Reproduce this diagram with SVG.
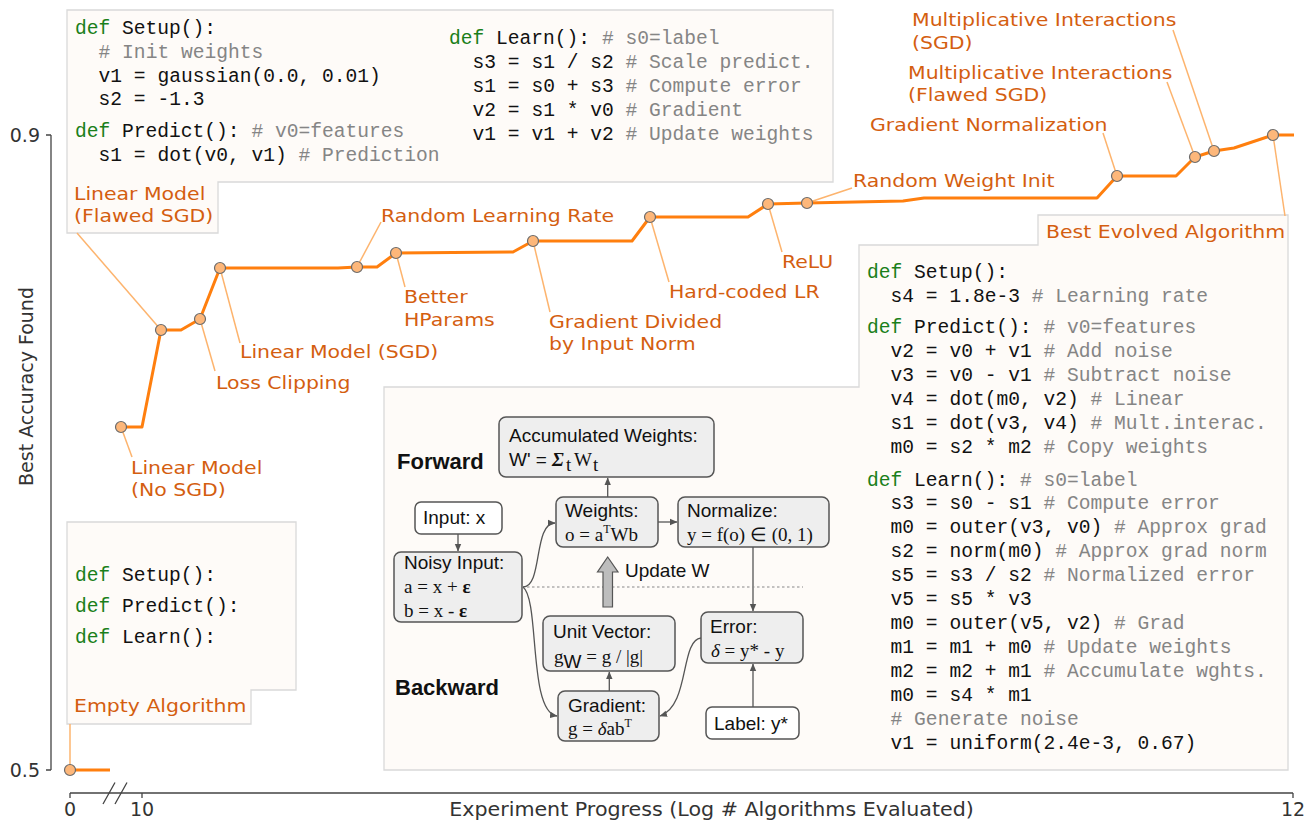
<svg xmlns="http://www.w3.org/2000/svg" width="1308" height="820" viewBox="0 0 1308 820">
<style>
.bg{fill:#fefbf8;stroke:#d9d9d9;stroke-width:1.3}
.code{font-family:"Liberation Mono","DejaVu Sans Mono",monospace;font-size:19.6px;fill:#111}
.kw{fill:#1a7f1a}
.cm{fill:#858585}
.lbl{font-family:"DejaVu Sans",sans-serif;font-size:18.5px;fill:#d45e10}
.ax{font-family:"DejaVu Sans",sans-serif;font-size:19px;fill:#333}
.axl{stroke:#444;stroke-width:1.3;fill:none}
.curve{fill:none;stroke:#ff7f0e;stroke-width:3;stroke-linejoin:round}
.lead{stroke:#fdb46e;stroke-width:1.5;fill:none}
.pt{fill:#fdb77a;stroke:#6b6b6b;stroke-width:1.2}
.box{fill:#eeeeee;stroke:#555;stroke-width:1.5}
.wbox{fill:#ffffff;stroke:#555;stroke-width:1.5}
.dt{font-family:"Liberation Sans",Arial,sans-serif;font-size:19px;fill:#111}
.mt{font-family:"Liberation Serif","Times New Roman",serif;font-size:19px;fill:#111}
.bold{font-family:"Liberation Sans",Arial,sans-serif;font-size:22px;font-weight:bold;fill:#111}
.arr{stroke:#555;stroke-width:1.3;fill:none;marker-end:url(#ah)}
</style>
<defs>
<marker id="ah" markerWidth="8" markerHeight="8" refX="7" refY="4" orient="auto" markerUnits="userSpaceOnUse">
<path d="M0,0.8 L7.5,4 L0,7.2 Z" fill="#555"/>
</marker>
</defs>
<rect width="1308" height="820" fill="#ffffff"/>

<!-- backgrounds -->
<g id="bg-top"><path class="bg" d="M67,10 H833 V182 H218 V233 H67 Z"/></g>
<g id="bg-empty"><path class="bg" d="M67,522 H296 V690 H251 V724 H67 Z"/></g>
<g id="bg-best"><path class="bg" d="M1038,215 H1288 V770 H384 V387 H859 V245 H1038 Z"/></g>

<!-- axes -->
<g id="axes">
<path class="axl" d="M51,135 V770 M46,135 H51 M46,770 H51"/>
<path class="axl" d="M70,793 H1293 M70,793 V798 M142,793 V798 M1293,793 V798"/>
<path class="axl" d="M103,804 L115,782.5 M115,804 L127,782.5"/>
<text class="ax" x="40" y="142" text-anchor="end">0.9</text>
<text class="ax" x="40" y="777" text-anchor="end">0.5</text>
<text class="ax" x="70" y="816" text-anchor="middle">0</text>
<text class="ax" x="142" y="816" text-anchor="middle">10</text>
<text class="ax" x="1293" y="816" text-anchor="middle">12</text>
<text class="ax" transform="translate(711.5,816) scale(1.085,1)" font-size="18.5" text-anchor="middle">Experiment Progress (Log # Algorithms Evaluated)</text>
<text class="ax" transform="translate(33,386.5) rotate(-90)" font-size="21" text-anchor="middle">Best Accuracy Found</text>
</g>

<!-- connectors: leader lines and diagram arrows -->
<g id="connectors">
<path class="lead" d="M70,770 V724"/>
<path class="lead" d="M121,427 L132,457"/>
<path class="lead" d="M161,330 L77,233"/>
<path class="lead" d="M200,319 L215,371"/>
<path class="lead" d="M220,268 L240,343"/>
<path class="lead" d="M357,267 L381,222"/>
<path class="lead" d="M396,253 L405,287"/>
<path class="lead" d="M533,241 L550,312"/>
<path class="lead" d="M650,217 L669,282"/>
<path class="lead" d="M768,204 L782,252"/>
<path class="lead" d="M807,203 L852,188"/>
<path class="lead" d="M1117,176 L1103,133"/>
<path class="lead" d="M1195,157 L1167,82"/>
<path class="lead" d="M1214,151 L1173,30"/>
<path class="lead" d="M1273,135 L1285,216"/>

<path class="arr" d="M458,534 V551"/>
<path class="arr" d="M607.7,497 V478"/>
<path class="arr" d="M658,522 H677"/>
<path class="arr" d="M753,547 V611"/>
<path class="arr" d="M753,707 V664"/>
<path class="arr" d="M609.3,691 V672"/>
<path class="arr" d="M523,587 C543,587 533,523 555,523"/>
<path class="arr" d="M523,587 C540,600 528,712 557,716"/>
<path class="arr" d="M701,638 C680,640 690,706 660,716"/>
<path d="M527,587 H803" stroke="#888" stroke-width="1.2" stroke-dasharray="2.5,2.5" fill="none"/>
</g>

<!-- accuracy curve -->
<g id="curve">
<path class="curve" d="M70,770 H110"/>
<path class="curve" d="M121,427 L142,427 L161,330 L181,330 L200,319 L220,268 L338,268 L357,267 L377,267 L396,253 L513,252 L533,241 L632,241 L650,217 L748,217 L768,204 L807,203 L903,201 L924,198 L1097,198 L1117,176 L1176,176 L1195,157 L1214,151 L1234,148 L1273,135 L1294,135"/>
<circle class="pt" cx="70" cy="770" r="5.5"/>
<circle class="pt" cx="121" cy="427" r="5.5"/>
<circle class="pt" cx="161" cy="330" r="5.5"/>
<circle class="pt" cx="200" cy="319" r="5.5"/>
<circle class="pt" cx="220" cy="268" r="5.5"/>
<circle class="pt" cx="357" cy="267" r="5.5"/>
<circle class="pt" cx="396" cy="253" r="5.5"/>
<circle class="pt" cx="533" cy="241" r="5.5"/>
<circle class="pt" cx="650" cy="217" r="5.5"/>
<circle class="pt" cx="768" cy="204" r="5.5"/>
<circle class="pt" cx="807" cy="203" r="5.5"/>
<circle class="pt" cx="1117" cy="176" r="5.5"/>
<circle class="pt" cx="1195" cy="157" r="5.5"/>
<circle class="pt" cx="1214" cy="151" r="5.5"/>
<circle class="pt" cx="1273" cy="135" r="5.5"/>
</g>

<!-- milestone labels -->
<g id="label-empty"><text class="lbl" transform="translate(74,712) scale(1.105,1)">Empty Algorithm</text></g>
<g id="label-nosgd"><text class="lbl" transform="translate(131,474) scale(1.105,1)">Linear Model<tspan x="0" y="22">(No SGD)</tspan></text></g>
<g id="label-flawed"><text class="lbl" transform="translate(74,200) scale(1.105,1)">Linear Model<tspan x="0" y="22">(Flawed SGD)</tspan></text></g>
<g id="label-clip"><text class="lbl" transform="translate(216,389) scale(1.105,1)">Loss Clipping</text></g>
<g id="label-sgd"><text class="lbl" transform="translate(240,358) scale(1.105,1)">Linear Model (SGD)</text></g>
<g id="label-rlr"><text class="lbl" transform="translate(381,222) scale(1.105,1)">Random Learning Rate</text></g>
<g id="label-hp"><text class="lbl" transform="translate(404,303) scale(1.105,1)">Better<tspan x="0" y="23">HParams</tspan></text></g>
<g id="label-gdin"><text class="lbl" transform="translate(549,328) scale(1.105,1)">Gradient Divided<tspan x="0" y="22">by Input Norm</tspan></text></g>
<g id="label-hclr"><text class="lbl" transform="translate(669,298) scale(1.105,1)">Hard-coded LR</text></g>
<g id="label-relu"><text class="lbl" transform="translate(782,268) scale(1.105,1)">ReLU</text></g>
<g id="label-rwi"><text class="lbl" transform="translate(853,187) scale(1.105,1)">Random Weight Init</text></g>
<g id="label-gn"><text class="lbl" transform="translate(870,131) scale(1.105,1)">Gradient Normalization</text></g>
<g id="label-mif"><text class="lbl" transform="translate(908,79) scale(1.105,1)">Multiplicative Interactions<tspan x="0" y="22">(Flawed SGD)</tspan></text></g>
<g id="label-mis"><text class="lbl" transform="translate(912,26) scale(1.105,1)">Multiplicative Interactions<tspan x="0" y="23">(SGD)</tspan></text></g>
<g id="label-best"><text class="lbl" transform="translate(1046,238) scale(1.105,1)">Best Evolved Algorithm</text></g>

<!-- code: linear model -->
<g id="code-linear" class="code">
<text x="75" y="34"><tspan class="kw">def</tspan> Setup():</text>
<text x="98.6" y="58" class="cm"># Init weights</text>
<text x="98.6" y="82">v1 = gaussian(0.0, 0.01)</text>
<text x="98.6" y="105">s2 = -1.3</text>
<text x="75" y="137"><tspan class="kw">def</tspan> Predict(): <tspan class="cm"># v0=features</tspan></text>
<text x="98.6" y="161">s1 = dot(v0, v1) <tspan class="cm"># Prediction</tspan></text>
<text x="449" y="44"><tspan class="kw">def</tspan> Learn(): <tspan class="cm"># s0=label</tspan></text>
<text x="472.6" y="68">s3 = s1 / s2 <tspan class="cm"># Scale predict.</tspan></text>
<text x="472.6" y="92">s1 = s0 + s3 <tspan class="cm"># Compute error</tspan></text>
<text x="472.6" y="116">v2 = s1 * v0 <tspan class="cm"># Gradient</tspan></text>
<text x="472.6" y="140">v1 = v1 + v2 <tspan class="cm"># Update weights</tspan></text>
</g>

<!-- code: empty -->
<g id="code-empty" class="code">
<text x="75" y="581"><tspan class="kw">def</tspan> Setup():</text>
<text x="75" y="612"><tspan class="kw">def</tspan> Predict():</text>
<text x="75" y="643"><tspan class="kw">def</tspan> Learn():</text>
</g>

<!-- code: best -->
<g id="code-best" class="code">
<text x="867" y="278"><tspan class="kw">def</tspan> Setup():</text>
<text x="890.6" y="302">s4 = 1.8e-3 <tspan class="cm"># Learning rate</tspan></text>
<text x="867" y="333"><tspan class="kw">def</tspan> Predict(): <tspan class="cm"># v0=features</tspan></text>
<text x="890.6" y="357">v2 = v0 + v1 <tspan class="cm"># Add noise</tspan></text>
<text x="890.6" y="381">v3 = v0 - v1 <tspan class="cm"># Subtract noise</tspan></text>
<text x="890.6" y="405">v4 = dot(m0, v2) <tspan class="cm"># Linear</tspan></text>
<text x="890.6" y="429">s1 = dot(v3, v4) <tspan class="cm"># Mult.interac.</tspan></text>
<text x="890.6" y="453">m0 = s2 * m2 <tspan class="cm"># Copy weights</tspan></text>
<text x="867" y="486"><tspan class="kw">def</tspan> Learn(): <tspan class="cm"># s0=label</tspan></text>
<text x="890.6" y="509">s3 = s0 - s1 <tspan class="cm"># Compute error</tspan></text>
<text x="890.6" y="533">m0 = outer(v3, v0) <tspan class="cm"># Approx grad</tspan></text>
<text x="890.6" y="557">s2 = norm(m0) <tspan class="cm"># Approx grad norm</tspan></text>
<text x="890.6" y="581">s5 = s3 / s2 <tspan class="cm"># Normalized error</tspan></text>
<text x="890.6" y="605">v5 = s5 * v3</text>
<text x="890.6" y="629">m0 = outer(v5, v2) <tspan class="cm"># Grad</tspan></text>
<text x="890.6" y="653">m1 = m1 + m0 <tspan class="cm"># Update weights</tspan></text>
<text x="890.6" y="677">m2 = m2 + m1 <tspan class="cm"># Accumulate wghts.</tspan></text>
<text x="890.6" y="701">m0 = s4 * m1</text>
<text x="890.6" y="725" class="cm"># Generate noise</text>
<text x="890.6" y="749">v1 = uniform(2.4e-3, 0.67)</text>
</g>

<!-- inner diagram -->
<g id="diag-titles">
<text class="bold" x="397" y="469">Forward</text>
<text class="bold" x="395" y="695">Backward</text>
</g>
<g id="node-accum">
<rect class="box" x="499" y="417" width="215" height="60" rx="7"/>
<text class="dt" x="509" y="442">Accumulated Weights:</text>
<text class="dt" x="509" y="466">W' =</text>
<text class="mt" x="552" y="466" font-weight="bold" font-style="italic">Σ</text>
<text class="mt" x="566" y="471" font-size="13">t</text>
<text class="mt" x="574" y="466">W</text>
<text class="mt" x="593" y="471" font-size="13">t</text>
</g>
<g id="node-input">
<rect class="wbox" x="415" y="502" width="87" height="32" rx="6"/>
<text class="dt" x="423" y="524">Input: x</text>
</g>
<g id="node-noisy">
<rect class="box" x="394" y="552" width="128" height="70" rx="7"/>
<text class="dt" x="404" y="569">Noisy Input:</text>
<text class="mt" x="404" y="593">a = x + <tspan font-weight="bold">ε</tspan></text>
<text class="mt" x="404" y="617">b = x - <tspan font-weight="bold">ε</tspan></text>
</g>
<g id="node-weights">
<rect class="box" x="556" y="497" width="102" height="50" rx="7"/>
<text class="dt" x="565" y="517">Weights:</text>
<text class="mt" x="565" y="541">o = a<tspan font-size="12" dy="-8">T</tspan><tspan dy="8">Wb</tspan></text>
</g>
<g id="node-normalize">
<rect class="box" x="678" y="497" width="151" height="50" rx="7"/>
<text class="dt" x="687" y="517">Normalize:</text>
<text class="mt" x="687" y="541">y = f(o) ∈ (0, 1)</text>
</g>
<g id="node-update">
<path d="M607.7,557 L618,572 L612.5,572 L612.5,607 L603,607 L603,572 L597.5,572 Z" fill="#bdbdbd" stroke="#555" stroke-width="1.2"/>
<text class="dt" x="625" y="577">Update W</text>
</g>
<g id="node-unit">
<rect class="box" x="543" y="616" width="132" height="55" rx="7"/>
<text class="dt" x="553" y="638">Unit Vector:</text>
<text class="mt" x="554" y="663">g<tspan class="dt" font-size="13" dy="5">W</tspan><tspan dy="-5"> = g / |g|</tspan></text>
</g>
<g id="node-error">
<rect class="box" x="701" y="612" width="102" height="51" rx="7"/>
<text class="dt" x="710" y="633">Error:</text>
<text class="mt" x="711" y="657"><tspan font-style="italic">δ</tspan> = y* - y</text>
</g>
<g id="node-gradient">
<rect class="box" x="558" y="691" width="101" height="50" rx="7"/>
<text class="dt" x="568" y="712">Gradient:</text>
<text class="mt" x="568" y="735">g = <tspan font-style="italic">δ</tspan>ab<tspan font-size="12" dy="-8">T</tspan></text>
</g>
<g id="node-label">
<rect class="wbox" x="706" y="707" width="93" height="32" rx="6"/>
<text class="dt" x="714" y="730">Label: y*</text>
</g>
</svg>
